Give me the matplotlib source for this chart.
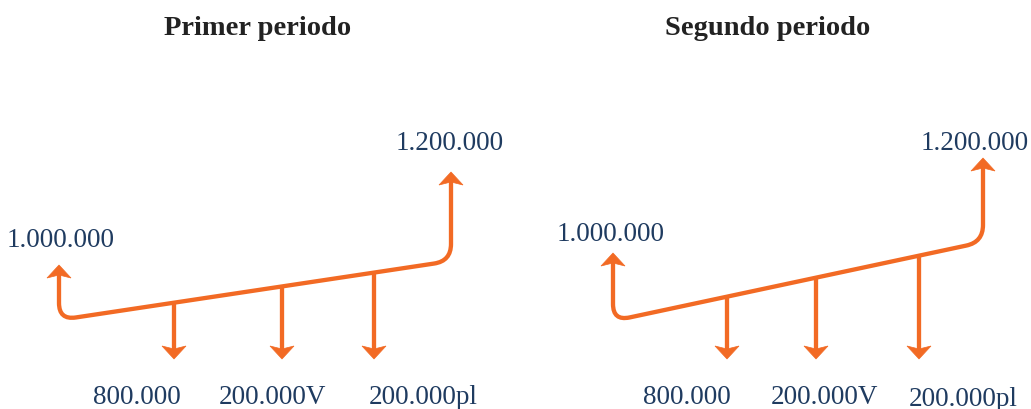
import matplotlib
matplotlib.use("Agg")
import matplotlib.pyplot as plt
from matplotlib.path import Path
from matplotlib.patches import PathPatch, Polygon

# ---- data (labels of the cash-flow diagrams) ----
titles = ["Primer periodo", "Segundo periodo"]
inflow_start = ["1.000.000", "1.000.000"]
inflow_end = ["1.200.000", "1.200.000"]
outflow_labels = ["800.000", "200.000V", "200.000pl"]

ORANGE = "#F26A24"
NAVY = "#1F3B60"
TITLE_C = "#222222"
FONT = ["Liberation Serif", "DejaVu Serif"]

W, H = 1031, 409
fig = plt.figure(figsize=(W / 100, H / 100), dpi=100)
ax = fig.add_axes([0, 0, 1, 1])
ax.set_xlim(0, W)
ax.set_ylim(H, 0)
ax.axis("off")

# layout of each panel (pixel space)
panels = [
    dict(title_x=258, A=(59, 320), B=(451, 261), left_tip=265, right_tip=172,
         downs=[174, 282, 374], down_tip=359,
         start_lab=(61, 247), end_lab=(450, 150),
         out_lab=[(137, 404), (273, 404), (423, 404)]),
    dict(title_x=768, A=(613, 321), B=(983, 242), left_tip=253, right_tip=158,
         downs=[727, 816, 919], down_tip=359,
         start_lab=(611, 241), end_lab=(975, 150),
         out_lab=[(687, 404), (825, 404), (963, 406)]),
]

LW = 3.1
R = 17
LAB_FS = 19.5


def arrowhead(x, ytip, direction):
    # direction: -1 = pointing up (tip at smaller y), +1 = pointing down
    L, N, hw = 13, 10, 12
    d = -direction
    pts = [(x, ytip), (x - hw, ytip + d * L), (x, ytip + d * N), (x + hw, ytip + d * L)]
    ax.add_patch(Polygon(pts, closed=True, facecolor=ORANGE, edgecolor=ORANGE,
                         lw=0.5, joinstyle="miter", zorder=3))


for p, title, s_lab, e_lab in zip(panels, titles, inflow_start, inflow_end):
    (ax_, ay), (bx, by) = p["A"], p["B"]
    slope = (by - ay) / (bx - ax_)
    ulen = (1 + slope ** 2) ** 0.5
    # main path: left vertical -> rounded corner -> baseline -> rounded corner -> right vertical
    p1 = (ax_, p["left_tip"] + 8)
    p2 = (ax_, ay - R)
    p3 = (ax_ + R / ulen, ay + slope * R / ulen)
    p4 = (bx - R / ulen, by - slope * R / ulen)
    p5 = (bx, by - R)
    p6 = (bx, p["right_tip"] + 8)
    verts = [p1, p2, (ax_, ay), p3, p4, (bx, by), p5, p6]
    codes = [Path.MOVETO, Path.LINETO, Path.CURVE3, Path.CURVE3,
             Path.LINETO, Path.CURVE3, Path.CURVE3, Path.LINETO]
    ax.add_patch(PathPatch(Path(verts, codes), facecolor="none", edgecolor=ORANGE,
                           lw=LW, capstyle="butt", joinstyle="round", zorder=2))
    arrowhead(ax_, p["left_tip"], -1)
    arrowhead(bx, p["right_tip"], -1)

    for x in p["downs"]:
        yb = ay + slope * (x - ax_)
        ax.plot([x, x], [yb, p["down_tip"] - 8], color=ORANGE, lw=LW,
                solid_capstyle="butt", zorder=2)
        arrowhead(x, p["down_tip"], 1)

    ax.text(p["title_x"], 35, title, ha="center", va="baseline", fontsize=20.5,
            fontweight="bold", color=TITLE_C, family=FONT)
    ax.text(*p["start_lab"], s_lab, ha="center", va="baseline", fontsize=LAB_FS,
            color=NAVY, family=FONT)
    ax.text(*p["end_lab"], e_lab, ha="center", va="baseline", fontsize=LAB_FS,
            color=NAVY, family=FONT)
    for (lx, ly), lab in zip(p["out_lab"], outflow_labels):
        ax.text(lx, ly, lab, ha="center", va="baseline", fontsize=LAB_FS,
                color=NAVY, family=FONT)

fig.savefig("out.png", dpi=100, facecolor="white")
